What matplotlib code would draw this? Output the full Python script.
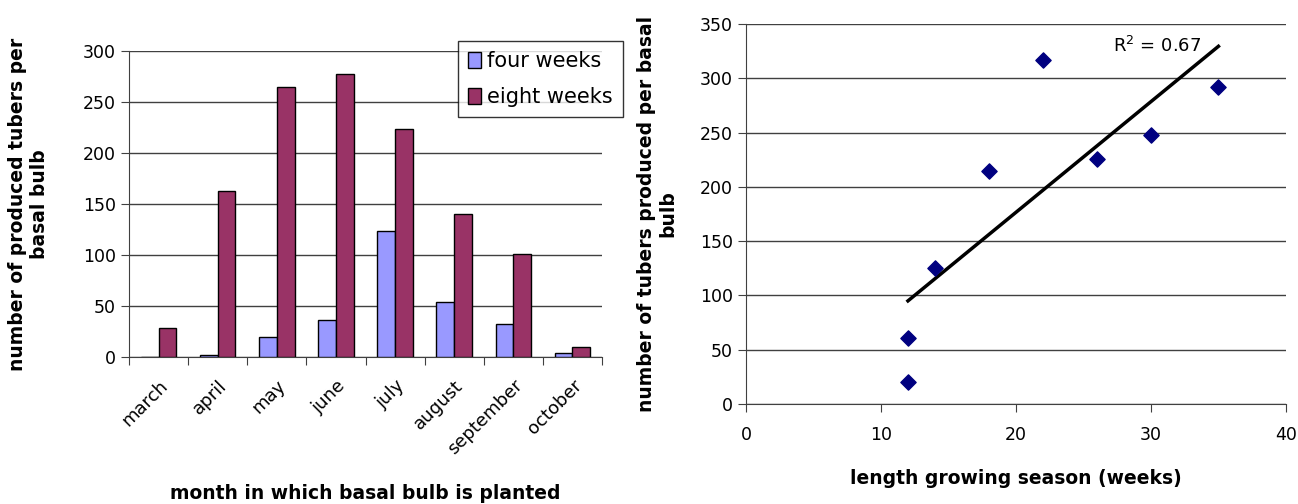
import numpy as np
import matplotlib.pyplot as plt

plt.rcParams['font.family'] = ['DejaVu Sans']

# bar chart data
months = ["march", "april", "may", "june", "july", "august", "september", "october"]
four_weeks = [0, 2, 20, 36, 124, 54, 32, 4]
eight_weeks = [28, 163, 265, 277, 224, 140, 101, 10]

# scatter data
season_weeks = [12, 12, 14, 18, 22, 26, 30, 35]
tubers = [20, 61, 125, 215, 317, 226, 248, 292]

fig = plt.figure(figsize=(12.98, 5.04), dpi=100)

# --- left: bar chart ---
ax1 = fig.add_axes([0.0994, 0.2917, 0.3644, 0.6071])
x = np.arange(len(months))
w = 0.3
ax1.bar(x - w / 2, four_weeks, w, color="#9999FF", edgecolor="black", linewidth=1,
        label="four weeks", zorder=3)
ax1.bar(x + w / 2, eight_weeks, w, color="#993366", edgecolor="black", linewidth=1,
        label="eight weeks", zorder=3)
ax1.set_xlim(-0.5, len(months) - 0.5)
ax1.set_ylim(0, 300)
ax1.set_yticks(np.arange(0, 301, 50))
ax1.yaxis.grid(True, color="#404040", linewidth=1)
ax1.set_axisbelow(True)
ax1.set_xticks(np.arange(-0.5, len(months), 1.0))
ax1.set_xticklabels([])
ax1.set_xticks(x, minor=True)
ax1.set_xticklabels(months, minor=True, rotation=45, ha="right", va="top",
                    rotation_mode="anchor", fontsize=13)
ax1.tick_params(axis="x", which="minor", length=0, pad=14)
ax1.tick_params(axis="x", which="major", length=6, color="#404040", direction="out")
ax1.tick_params(axis="y", labelsize=12.5, length=6, color="#404040", direction="out")
for s in ["top", "right"]:
    ax1.spines[s].set_visible(False)
for s in ["left", "bottom"]:
    ax1.spines[s].set_color("#404040")
ax1.set_ylabel("number of produced tubers per\nbasal bulb", fontsize=13.5, fontweight="bold",
               labelpad=24)
ax1.set_xlabel("month in which basal bulb is planted", fontsize=13.5, fontweight="bold",
               va="center")
ax1.xaxis.set_label_coords(0.5, -0.445)
leg = ax1.legend(loc="upper left", bbox_to_anchor=(0.695, 1.033), fontsize=15,
                 frameon=True, fancybox=False, edgecolor="black", handlelength=0.6,
                 handleheight=0.8, handletextpad=0.3, borderaxespad=0, labelspacing=0.75,
                 borderpad=0.5)
leg.get_frame().set_linewidth(1)

# --- right: scatter with trend line ---
ax2 = fig.add_axes([0.5747, 0.1984, 0.4160, 0.7540])
ax2.scatter(season_weeks, tubers, marker="D", s=60, color="#000080", zorder=3)
slope, intercept = np.polyfit(season_weeks, tubers, 1)
xs = np.array([min(season_weeks), max(season_weeks)])
ax2.plot(xs, slope * xs + intercept, color="black", linewidth=2.5, zorder=2)
pred = slope * np.array(season_weeks) + intercept
r2 = 1 - np.sum((np.array(tubers) - pred) ** 2) / np.sum((np.array(tubers) - np.mean(tubers)) ** 2)
ax2.text(27.2, 330, "R$^2$ = %.2f" % r2, fontsize=13, va="center")
ax2.set_xlim(0, 40)
ax2.set_ylim(0, 350)
ax2.set_xticks(np.arange(0, 41, 10))
ax2.set_yticks(np.arange(0, 351, 50))
ax2.yaxis.grid(True, color="#404040", linewidth=1)
ax2.set_axisbelow(True)
ax2.tick_params(labelsize=12.5, length=6, color="#404040", direction="out")
ax2.tick_params(axis="x", pad=10)
for s in ["top", "right"]:
    ax2.spines[s].set_visible(False)
for s in ["left", "bottom"]:
    ax2.spines[s].set_color("#404040")
ax2.set_ylabel("number of tubers produced per basal\nbulb", fontsize=13.5, fontweight="bold",
               labelpad=16)
ax2.set_xlabel("length growing season (weeks)", fontsize=13.5, fontweight="bold", labelpad=18)

fig.savefig("out.png", dpi=100)
